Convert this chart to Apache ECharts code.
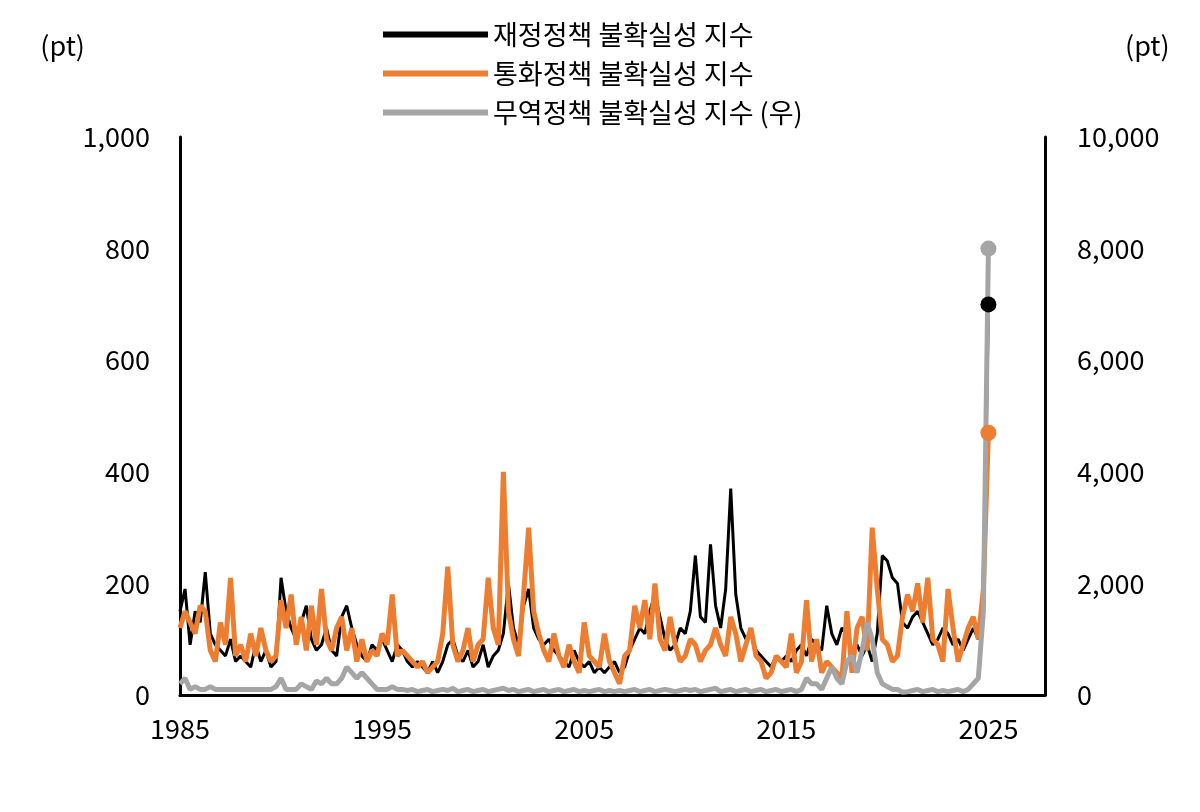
<!DOCTYPE html>
<html><head><meta charset="utf-8">
<script src="https://cdn.jsdelivr.net/npm/echarts@6/dist/echarts.min.js"></script>
<style>html,body{margin:0;background:#fff}#c{width:1200px;height:812px}</style>
</head><body><div id="c"></div>
<script>
const startYear = 1985;
const xTicks = [1985, 1995, 2005, 2015, 2025];
const fiscal = [150,190,90,150,130,220,110,90,80,70,100,60,70,60,50,90,60,80,50,60,210,150,120,100,130,160,100,80,90,120,80,70,140,160,120,90,70,60,90,80,100,80,60,90,80,60,50,60,50,40,60,40,60,90,100,70,60,80,50,60,90,50,70,80,110,200,120,90,160,190,120,100,90,100,80,70,60,50,80,60,50,60,40,50,40,50,60,40,50,80,100,120,110,150,180,140,100,80,90,120,110,150,250,140,130,270,160,120,190,370,180,120,100,110,80,70,60,50,70,60,70,60,80,90,70,100,90,80,160,110,90,120,110,80,90,70,90,60,110,250,240,210,200,130,120,140,150,130,110,90,100,120,110,90,100,80,100,120,100,150,700];
const monetary = [120,150,130,110,160,150,80,60,130,90,210,70,90,60,110,70,120,80,60,70,170,120,180,90,140,80,160,90,190,100,80,120,140,80,120,60,100,60,80,70,110,90,180,70,80,70,60,50,60,40,50,60,110,230,90,60,80,120,60,90,100,210,120,90,400,150,100,70,180,300,150,110,80,60,110,70,50,90,60,40,130,70,60,50,110,60,40,20,70,80,160,120,170,100,200,100,80,140,90,60,70,100,90,60,80,90,120,90,70,140,110,60,90,120,70,60,30,40,70,60,50,110,40,60,170,60,100,40,60,50,40,30,150,40,120,140,80,300,190,100,90,60,70,140,180,150,200,130,210,100,90,60,190,120,60,90,120,140,100,190,470];
const trade = [200,300,100,150,100,100,150,100,100,100,100,100,100,100,100,100,100,100,100,150,300,100,100,100,200,150,100,250,200,300,200,200,300,500,400,300,400,300,200,100,100,100,150,100,100,80,100,60,80,100,60,80,100,80,120,60,80,100,60,80,100,60,80,100,120,80,100,60,80,100,60,80,100,60,80,100,60,80,100,60,80,60,80,100,60,80,60,80,60,80,100,60,80,100,60,80,100,80,60,80,100,80,100,60,80,100,120,60,80,100,60,80,100,60,80,100,60,80,100,60,80,100,60,100,300,200,200,100,300,500,300,200,600,700,400,800,1300,1000,400,200,150,100,100,50,60,80,100,60,80,100,60,80,60,80,100,60,100,200,300,1500,8000];
const toXY = arr => arr.map((v,i)=>[startYear + i/4, v]);
const font = "'Noto Sans CJK KR', sans-serif";
function ser(name, arr, color, w, yi, z){
  const d = toXY(arr);
  return {name, type:'line', data:d, yAxisIndex:yi, showSymbol:false, symbol:'none', z,
    lineStyle:{color, width:w}, itemStyle:{color},
    markPoint:{symbol:'circle', symbolSize:16, label:{show:false}, itemStyle:{color}, data:[{coord:d[d.length-1]}]}};
}
const chart = echarts.init(document.getElementById('c'));
chart.setOption({
  animation:false,
  textStyle:{fontFamily:font},
  legend:{top:16, left:378, orient:'vertical', itemGap:12, itemWidth:105, itemHeight:6,
    textStyle:{fontSize:27, color:'#000', fontFamily:font},
    data:[{name:'재정정책 불확실성 지수', icon:'rect'},{name:'통화정책 불확실성 지수', icon:'rect'},{name:'무역정책 불확실성 지수 (우)', icon:'rect'}]},
  grid:{left:180, right:155, top:137, bottom:117},
  xAxis:{type:'value', min:1985, max:2027.8, interval:10,
    axisLine:{lineStyle:{color:'#000', width:3}}, axisTick:{show:false},
    splitLine:{show:false},
    axisLabel:{fontSize:27, color:'#000', margin:20, fontFamily:font, showMaxLabel:false,
      formatter:v=>xTicks.includes(v)?String(v):''}},
  yAxis:[
    {type:'value', min:0, max:1000, interval:200, name:'(pt)', nameLocation:'end', nameGap:78,
     nameTextStyle:{fontSize:27, color:'#000', align:'right', padding:[0,95,0,0]},
     axisLine:{show:true, lineStyle:{color:'#000', width:3}}, axisTick:{show:false}, splitLine:{show:false},
     axisLabel:{fontSize:27, color:'#000', margin:30, formatter:v=>v.toLocaleString('en-US')}},
    {type:'value', min:0, max:10000, interval:2000, name:'(pt)', nameLocation:'end', nameGap:78,
     nameTextStyle:{fontSize:27, color:'#000', align:'left', padding:[0,0,0,80]},
     axisLine:{show:true, lineStyle:{color:'#000', width:3}}, axisTick:{show:false}, splitLine:{show:false},
     axisLabel:{fontSize:27, color:'#000', margin:32, formatter:v=>v.toLocaleString('en-US')}}
  ],
  series:[
    ser('재정정책 불확실성 지수', fiscal, '#000000', 3, 0, 2),
    ser('통화정책 불확실성 지수', monetary, '#ED7D31', 5, 0, 3),
    ser('무역정책 불확실성 지수 (우)', trade, '#A5A5A5', 5, 1, 4)
  ]
});
</script></body></html>
